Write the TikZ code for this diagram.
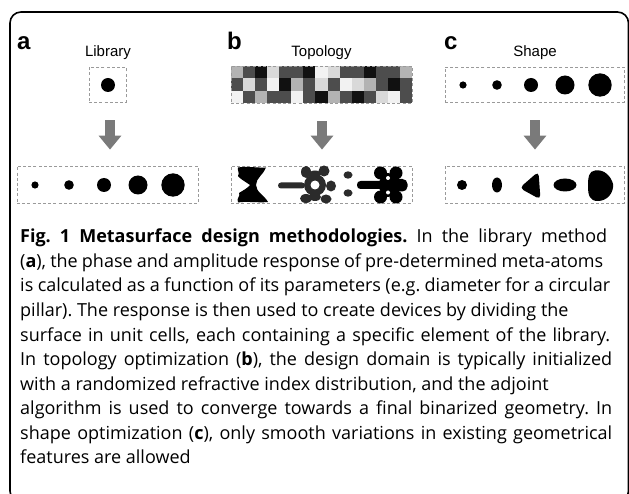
\documentclass[tikz,border=0pt]{standalone}
\usepackage{fontspec}
\setmainfont{Open Sans}
\newfontfamily\labfont{Liberation Sans}
\usetikzlibrary{arrows.meta}
\definecolor{cellK}{HTML}{111111}
\definecolor{cellD}{HTML}{4D4D4D}
\definecolor{cellG}{HTML}{B3B3B3}
\definecolor{cellL}{HTML}{D9D9D9}
\definecolor{cellW}{HTML}{F2F2F2}
\definecolor{blobdark}{HTML}{2B2B2B}
\definecolor{arrgray}{HTML}{7A7A7A}
\definecolor{dashgray}{HTML}{9A9A9A}
\newcommand{\capline}[2]{\makebox[#1pt][s]{#2}}
\frenchspacing
\tikzset{
  dbox/.style={draw=dashgray, line width=0.8pt, dash pattern=on 3pt off 2.2pt, inner sep=0pt, minimum width=#1},
  panellabel/.style={font=\labfont\bfseries\fontsize{24}{24}\selectfont, anchor=base west, inner sep=0pt},
  paneltitle/.style={font=\labfont\fontsize{15}{15}\selectfont, anchor=base, inner sep=0pt},
  caption/.style={font=\fontsize{18}{24.5}\selectfont, anchor=base west, inner sep=0pt},
  blockarrow/.style={draw=arrgray, line width=10pt, -{Triangle[width=22pt,length=14pt]}, shorten <=18pt, shorten >=16pt},
  pillar/.style={fill=black},
}
\begin{document}
\begin{tikzpicture}[x=1pt,y=-1pt]
\useasboundingbox (0,0) rectangle (629,494);
\clip (0,0) rectangle (629,494);
\fill[white] (0,0) rectangle (629,494);
% frame
\draw[line width=1.6pt, rounded corners=11pt] (10,12) rectangle (628.5,502);

% ---------- panel a ----------
\node[panellabel] (la) at (17,50) {a};
\node[paneltitle] (ta) at (108,57) {Library};
\node[dbox=37pt, minimum height=35pt] (a1) at (107.5,84.5) {};
\fill[pillar] (108,85) circle (7);
\node[dbox=181pt, minimum height=37pt] (a2) at (107.5,184.5) {};
\fill[pillar] (35,185) circle (3.6);
\fill[pillar] (69,185) circle (4.8);
\fill[pillar] (104,185) circle (7);
\fill[pillar] (138,185) circle (9.5);
\fill[pillar] (173,185) circle (11.7);
\draw[blockarrow] (a1.south -| 110,0) -- (a2.north -| 110,0);

% ---------- panel b ----------
\node[panellabel] (lb) at (227,50) {b};
\node[paneltitle] (tb) at (321.5,57) {Topology};
\def\cw{12.067}
\def\ch{12.333}
\foreach \c [count=\i from 0] in {G,D,K,L,D,D,K,W,L,D,D,K,D,D,G}
  \fill[cell\c] (231+\i*\cw,66) rectangle ++(\cw,\ch);
\foreach \c [count=\i from 0] in {D,L,D,W,K,G,D,L,D,W,L,G,D,K,D}
  \fill[cell\c] (231+\i*\cw,66+\ch) rectangle ++(\cw,\ch);
\foreach \c [count=\i from 0] in {W,D,G,D,D,W,D,K,G,D,K,D,L,W,D}
  \fill[cell\c] (231+\i*\cw,66+2*\ch) rectangle ++(\cw,\ch);
\node[dbox=181pt, minimum height=37pt] (b1) at (321.5,84.5) {};
\node[dbox=181pt, minimum height=37pt] (b2) at (321.5,184.5) {};
\draw[blockarrow] (b1.south -| 322,0) -- (b2.north -| 322,0);
% hourglass shape
\fill[black] (238,167.5) .. controls (246,166) and (258,168) .. (266,167.5)
  .. controls (264,174) and (256,178) .. (256,185)
  .. controls (256,192) and (265,196) .. (268,202)
  .. controls (258,203) and (246,201) .. (238,202.5)
  .. controls (236,198) and (241,196) .. (239,193)
  .. controls (244,190) and (249,187) .. (250,185)
  .. controls (246,182) and (240,179) .. (238,176)
  .. controls (240,173) and (237,170) .. (238,167.5) -- cycle;
% gear-like shape
\begin{scope}[blobdark]
\fill (315,185) circle (11);
\fill[rounded corners=3pt] (278,182.5) rectangle (305,188.5);
\fill (306,172) ellipse (5 and 6);
\fill (324,171) ellipse (5.5 and 5.5);
\fill (331,186) ellipse (5 and 5.5);
\fill (326,199) ellipse (5.5 and 4.5);
\fill (306,198.5) ellipse (6 and 4.5);
\fill (315,197) ellipse (6 and 4);
\fill (315,174) ellipse (6 and 3.5);
\end{scope}
\fill[white] (315,185) circle (4.5);
% two dots
\fill[blobdark] (348,175) ellipse (4.5 and 3.7);
\fill[blobdark] (348,193) ellipse (4.5 and 3.7);
% butterfly shape
\fill[black, rounded corners=3.5pt] (357,181) rectangle (385,189);
\fill[black, rounded corners=5pt] (390,179) rectangle (407.5,191.5);
\fill[black] (380.5,173) ellipse (6.5 and 6.5);
\fill[black] (396,173) ellipse (6.5 and 6.5);
\fill[black] (380.5,197) ellipse (6.5 and 6.5);
\fill[black] (396,197) ellipse (6.5 and 6.5);
\fill[black] (388,185) ellipse (9 and 12);
\fill[white] (388,178) circle (2);
\fill[white] (388,192.5) circle (2);

% ---------- panel c ----------
\node[panellabel] (lc) at (444,50) {c};
\node[paneltitle] (tc) at (535,57) {Shape};
\node[dbox=179pt, minimum height=35pt] (c1) at (534.5,84.5) {};
\fill[pillar] (463,85) circle (3.6);
\fill[pillar] (497,85) circle (4.8);
\fill[pillar] (531,85) circle (7);
\fill[pillar] (565,85) circle (9.5);
\fill[pillar] (600,85) circle (11.7);
\node[dbox=179pt, minimum height=37pt] (c2) at (534.5,184.5) {};
\draw[blockarrow] (c1.south -| 535,0) -- (c2.north -| 535,0);
\fill[pillar] (462,185) circle (5);
\fill[pillar] (497,185) ellipse (5 and 7.5);
\fill[pillar, rounded corners=4.5pt] (519.5,188) -- (538.5,171.5) -- (540.5,199.5) -- cycle;
\fill[pillar] (565,185) ellipse (11.5 and 6.5);
\fill[pillar] (595,170.5) .. controls (604,169) and (611,176) .. (613,184)
  .. controls (614,193) and (607,201) .. (598,201)
  .. controls (590,201) and (588,196) .. (588,186)
  .. controls (588,177) and (589,171) .. (595,170.5) -- cycle;

% ---------- caption ----------
\node[caption] (cap1) at (20,243) {\capline{587}{\textbf{Fig. 1 Metasurface design methodologies.} In the library method}};
\node[caption] (cap2) at (20,267.5) {\capline{583}{(\textbf{a}), the phase and amplitude response of pre-determined meta-atoms}};
\node[caption] (cap3) at (20,292) {\capline{590}{is calculated as a function of its parameters (e.g. diameter for a circular}};
\node[caption] (cap4) at (20,316.5) {pillar). The response is then used to create devices by dividing the};
\node[caption] (cap5) at (20,341) {\capline{590}{surface in unit cells, each containing a specific element of the library.}};
\node[caption] (cap6) at (20,365.5) {\capline{592}{In topology optimization (\textbf{b}), the design domain is typically initialized}};
\node[caption] (cap7) at (20,390) {with a randomized refractive index distribution, and the adjoint};
\node[caption] (cap8) at (20,414.5) {\capline{592}{algorithm is used to converge towards a final binarized geometry. In}};
\node[caption] (cap9) at (20,439) {\capline{592}{shape optimization (\textbf{c}), only smooth variations in existing geometrical}};
\node[caption] (cap10) at (20,463.5) {features are allowed};
\end{tikzpicture}
\end{document}
